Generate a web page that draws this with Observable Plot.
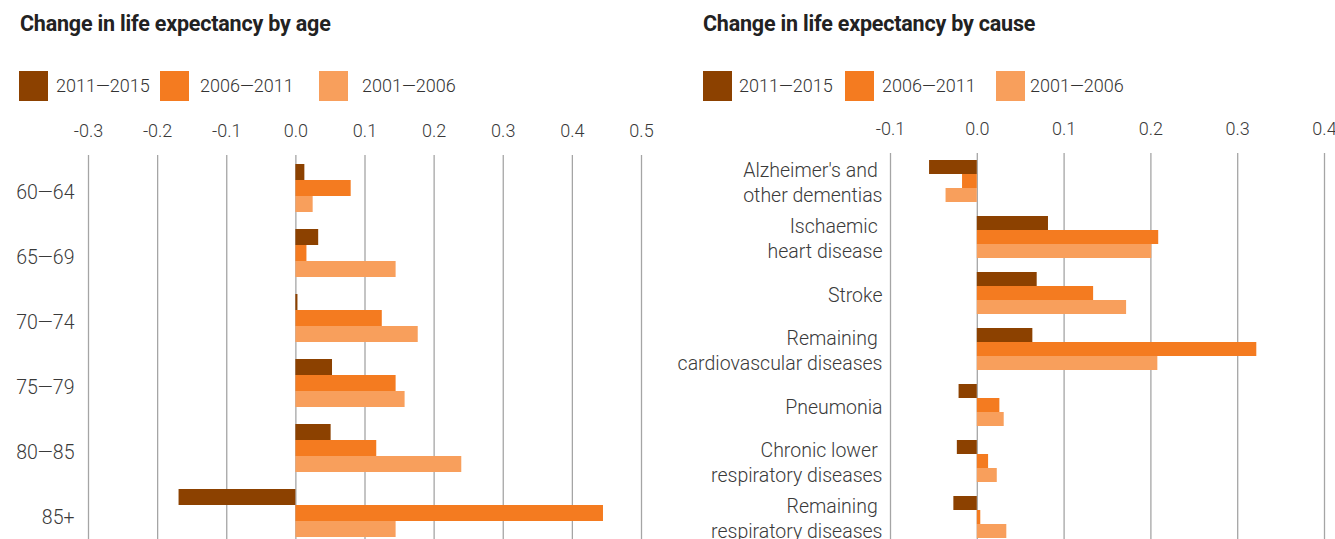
<!DOCTYPE html>
<html>
<head>
<meta charset="utf-8">
<script src="https://cdn.jsdelivr.net/npm/d3@7"></script>
<script src="https://cdn.jsdelivr.net/npm/@observablehq/plot@0.6"></script>
<style>
  html, body { margin: 0; padding: 0; background: #fff; overflow: hidden; }
  body { width: 1335px; height: 539px; position: relative; font-family: Roboto, sans-serif; }
  .title { position: absolute; top: 11px; font-weight: 700; font-size: 21.5px; color: #222; white-space: nowrap; letter-spacing: -0.2px; }
  .sw { position: absolute; top: 71px; width: 29px; height: 30px; }
  .lt { position: absolute; top: 74px; font-size: 18px; font-weight: 300; color: #333; white-space: nowrap; line-height: 24px; }
  .chart { position: absolute; top: 100px; }
</style>
</head>
<body>
<div class="title" style="left:20px">Change in life expectancy by age</div>
<div class="title" style="left:703px">Change in life expectancy by cause</div>
<div id="legL"></div>
<div id="legR"></div>
<div id="left" class="chart" style="left:0px"></div>
<div id="right" class="chart" style="left:670px"></div>
<script>
// ---- data ----
const series = ["2011—2015", "2006—2011", "2001—2006"];
const colors = ["#8c4100", "#f47b20", "#f89f5c"];

const ages = ["60—64", "65—69", "70—74", "75—79", "80—85", "85+"];
const age2011_2015 = [0.013, 0.033, 0.003, 0.053, 0.051, -0.169];
const age2006_2011 = [0.080, 0.016, 0.125, 0.145, 0.117, 0.445];
const age2001_2006 = [0.025, 0.145, 0.177, 0.158, 0.240, 0.145];
const ageTicks = [-0.3, -0.2, -0.1, 0.0, 0.1, 0.2, 0.3, 0.4, 0.5];

const causes = [
  "Alzheimer's and\u00a0\nother dementias",
  "Ischaemic\u00a0\nheart disease",
  "Stroke",
  "Remaining\u00a0\ncardiovascular diseases",
  "Pneumonia",
  "Chronic lower\u00a0\nrespiratory diseases",
  "Remaining\u00a0\nrespiratory diseases"
];
const cause2011_2015 = [-0.055, 0.082, 0.069, 0.064, -0.021, -0.023, -0.027];
const cause2006_2011 = [-0.017, 0.209, 0.134, 0.322, 0.026, 0.013, 0.004];
const cause2001_2006 = [-0.036, 0.201, 0.172, 0.208, 0.031, 0.023, 0.034];
const causeTicks = [-0.1, 0.0, 0.1, 0.2, 0.3, 0.4];

// ---- tables ----
function table(cats, arrs) {
  const rows = [];
  cats.forEach((c, i) => arrs.forEach((a, j) => rows.push({cat: c, series: series[j], value: a[i]})));
  return rows;
}
const ageRows = table(ages, [age2011_2015, age2006_2011, age2001_2006]);
const causeRows = table(causes, [cause2011_2015, cause2006_2011, cause2001_2006]);

// ---- legends ----
function legend(el, swX, txX) {
  const box = document.getElementById(el);
  series.forEach((s, i) => {
    const sw = document.createElement("div");
    sw.className = "sw"; sw.style.left = swX[i] + "px"; sw.style.background = colors[i];
    const t = document.createElement("div");
    t.className = "lt"; t.style.left = txX[i] + "px"; t.textContent = s;
    box.appendChild(sw); box.appendChild(t);
  });
}
legend("legL", [19, 160, 319], [56, 200, 362]);
legend("legR", [703, 845, 996], [739, 882, 1030]);

// ---- charts ----
function chart(rows, cats, ticks, domain, opts) {
  return Plot.plot({
    width: opts.width,
    height: opts.height,
    marginTop: 53,
    marginBottom: 0,
    marginLeft: opts.marginLeft,
    marginRight: opts.marginRight,
    style: {fontFamily: "Roboto, sans-serif", fontSize: "18px", fontWeight: 300, color: "#3a3a3a", background: "transparent", overflow: "visible"},
    facet: {data: rows, y: "cat"},
    fy: {domain: cats, padding: 0, axis: null, label: null},
    y: {domain: series, paddingInner: 0, paddingOuter: opts.pad, axis: null},
    x: {domain, ticks, axis: "top", tickSize: 0, tickPadding: 19, tickFormat: d => d.toFixed(1), label: null},
    color: {domain: series, range: colors},
    marks: [
      Plot.ruleX(ticks, {stroke: "#a5a5a5", strokeWidth: 1.3}),
      Plot.barX(rows, {x: "value", y: "series", fill: "series"}),
      Plot.text(rows, {
        filter: d => d.series === series[1],
        text: "cat",
        frameAnchor: "left",
        textAnchor: "end",
        dx: -opts.labelPad,
        dy: opts.labelDy,
        lineHeight: opts.lineHeight,
        fill: "#3a3a3a",
        fontSize: 19.5
      })
    ]
  });
}

document.getElementById("left").appendChild(
  chart(ageRows, ages, ageTicks, [-0.3, 0.5], {width: 665, height: 446, marginLeft: 88, marginRight: 24, pad: 0.52, labelPad: 14, labelDy: 3, lineHeight: 1.28})
);
document.getElementById("right").appendChild(
  chart(causeRows, causes, causeTicks, [-0.1, 0.4], {width: 665, height: 445, marginLeft: 220, marginRight: 11, pad: 0.47, labelPad: 8, labelDy: 0, lineHeight: 1.28})
);
</script>
</body>
</html>
